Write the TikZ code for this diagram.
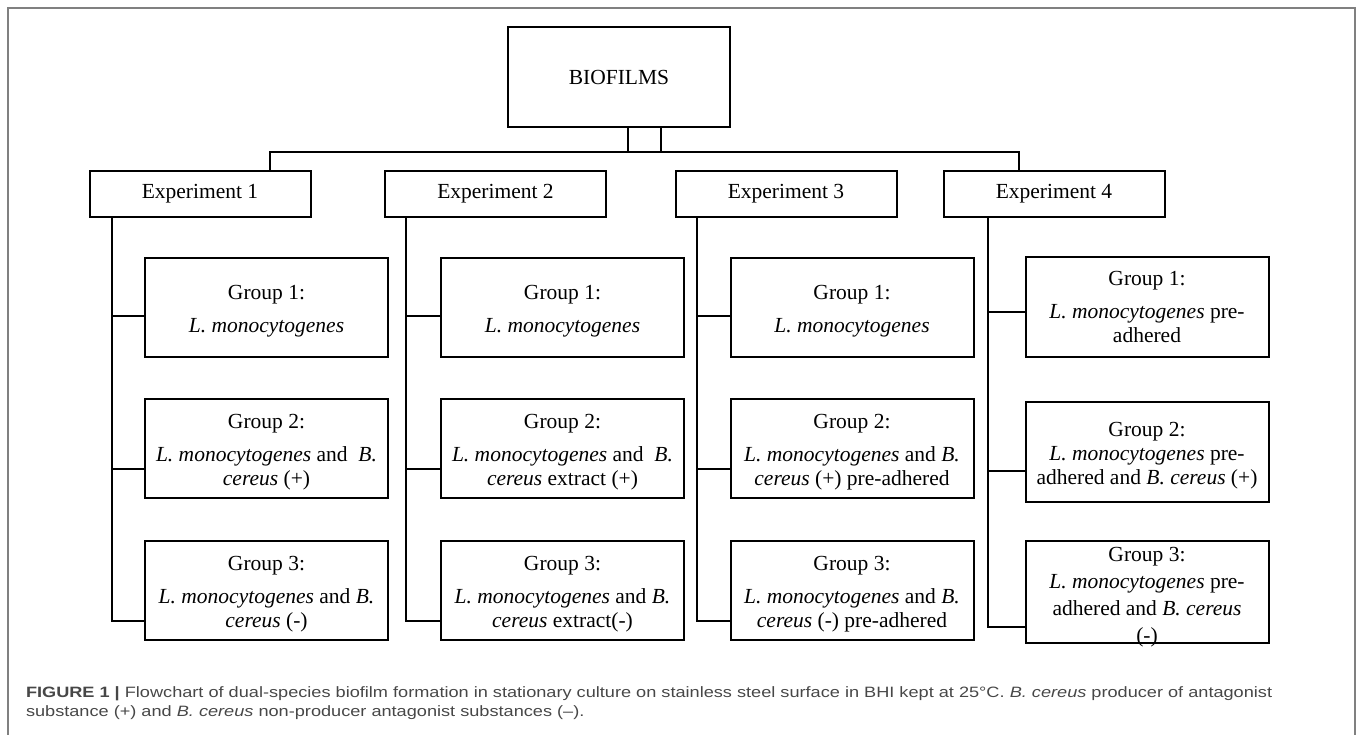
\documentclass[tikz,border=0pt]{standalone}
\usepackage{graphicx}
\usepackage{fontspec}
\setmainfont{Liberation Serif}
\newfontfamily\capfont{Liberation Sans}
\newcommand{\grouptop}{\rule{0pt}{21.5pt}}

\begin{document}
\begin{tikzpicture}[x=1pt, y=-1pt, line width=2pt,
        font=\fontsize{21.5}{24}\selectfont,
        expbox/.style={draw, minimum width=221pt, minimum height=46pt, inner sep=0pt},
        groupbox/.style={draw, minimum width=243pt, minimum height=99pt, inner sep=0pt, align=center},
        captext/.style={anchor=base west, inner sep=0pt, text=black!72,
            font=\capfont\fontsize{15}{19}\selectfont}]
        \useasboundingbox (0,0) rectangle (1357,735);
        \draw[black!50, line width=1.2pt] (8,745) -- (8,8) -- (1355,8) -- (1355,745);

        \node[draw, minimum width=222pt, minimum height=100pt] (bio) at (619,77) {BIOFILMS};

        \node[expbox] (e1) at (200,194) {Experiment 1};
        \node[expbox] (e2) at (495.5,194) {Experiment 2};
        \node[expbox] (e3) at (786,194) {Experiment 3};
        \node[expbox] (e4) at (1054,194) {Experiment 4};

        \node[groupbox] (g11) at (266.5,307.5) {\grouptop Group 1:\\[9pt] \textit{L. monocytogenes}};
        \node[groupbox] (g12) at (266.5,448.5) {\grouptop Group 2:\\[9pt] \textit{L. monocytogenes} and \ \textit{B.}\\ \textit{cereus} (+)};
        \node[groupbox] (g13) at (266.5,590.5) {\grouptop Group 3:\\[9pt] \textit{L. monocytogenes} and \textit{B.}\\ \textit{cereus} (-)};

        \node[groupbox] (g21) at (562.5,307.5) {\grouptop Group 1:\\[9pt] \textit{L. monocytogenes}};
        \node[groupbox] (g22) at (562.5,448.5) {\grouptop Group 2:\\[9pt] \textit{L. monocytogenes} and \ \textit{B.}\\ \textit{cereus} extract (+)};
        \node[groupbox] (g23) at (562.5,590.5) {\grouptop Group 3:\\[9pt] \textit{L. monocytogenes} and \textit{B.}\\ \textit{cereus} extract(-)};

        \node[groupbox] (g31) at (852,307.5) {\grouptop Group 1:\\[9pt] \textit{L. monocytogenes}};
        \node[groupbox] (g32) at (852,448.5) {\grouptop Group 2:\\[9pt] \textit{L. monocytogenes} and \textit{B.}\\ \textit{cereus} (+) pre-adhered};
        \node[groupbox] (g33) at (852,590.5) {\grouptop Group 3:\\[9pt] \textit{L. monocytogenes} and \textit{B.}\\ \textit{cereus} (-) pre-adhered};

        \node[groupbox, minimum height=100pt] (g41) at (1147,307) {Group 1:\\[9pt] \textit{L. monocytogenes} pre-\\ adhered};
        \node[groupbox, minimum height=100pt] (g42) at (1147,452) {\grouptop Group 2:\\ \textit{L. monocytogenes} pre-\\ adhered and \textit{B. cereus} (+)};
        \node[groupbox, minimum height=102pt] (g43) at (1147,592) {\rule{0pt}{19pt}Group 3:\\[3pt] \textit{L. monocytogenes} pre-\\[3pt] adhered and \textit{B. cereus}\\[3pt] \smash{(-)}};

        \coordinate (busl) at (270,152);
        \coordinate (busr) at (1019,152);
        \coordinate (bl) at ([xshift=9pt]bio.south);
        \coordinate (br) at ([xshift=42pt]bio.south);
        \draw (bl) -- (bl |- busl);
        \draw (br) -- (br |- busl);
        \draw (e1.north -| busl) -- (busl) -- (busr) -- (e4.north -| busr);

        \draw ([xshift=23pt]e1.south west) |- ([yshift=-8.5pt]g11.west);
        \draw ([xshift=23pt]e1.south west) |- ([yshift=-20.5pt]g12.west);
        \draw ([xshift=23pt]e1.south west) |- ([yshift=-30.5pt]g13.west);
        \draw ([xshift=22pt]e2.south west) |- ([yshift=-8.5pt]g21.west);
        \draw ([xshift=22pt]e2.south west) |- ([yshift=-20.5pt]g22.west);
        \draw ([xshift=22pt]e2.south west) |- ([yshift=-30.5pt]g23.west);
        \draw ([xshift=22pt]e3.south west) |- ([yshift=-8.5pt]g31.west);
        \draw ([xshift=22pt]e3.south west) |- ([yshift=-20.5pt]g32.west);
        \draw ([xshift=22pt]e3.south west) |- ([yshift=-30.5pt]g33.west);
        \draw ([xshift=45pt]e4.south west) |- ([yshift=-5pt]g41.west);
        \draw ([xshift=45pt]e4.south west) |- ([yshift=-19pt]g42.west);
        \draw ([xshift=45pt]e4.south west) |- ([yshift=-35pt]g43.west);

        \node[captext] (cap1) at (25,697.7) {\scalebox{1.21}[1]{\textbf{FIGURE 1 |} Flowchart of dual-species biofilm formation in stationary culture on stainless steel surface in BHI kept at 25°C. \textit{B. cereus} producer of antagonist}};
        \node[captext] (cap2) at (25,716.7) {\scalebox{1.21}[1]{substance (+) and \textit{B. cereus} non-producer antagonist substances (–).}};
    \end{tikzpicture}
\end{document}
